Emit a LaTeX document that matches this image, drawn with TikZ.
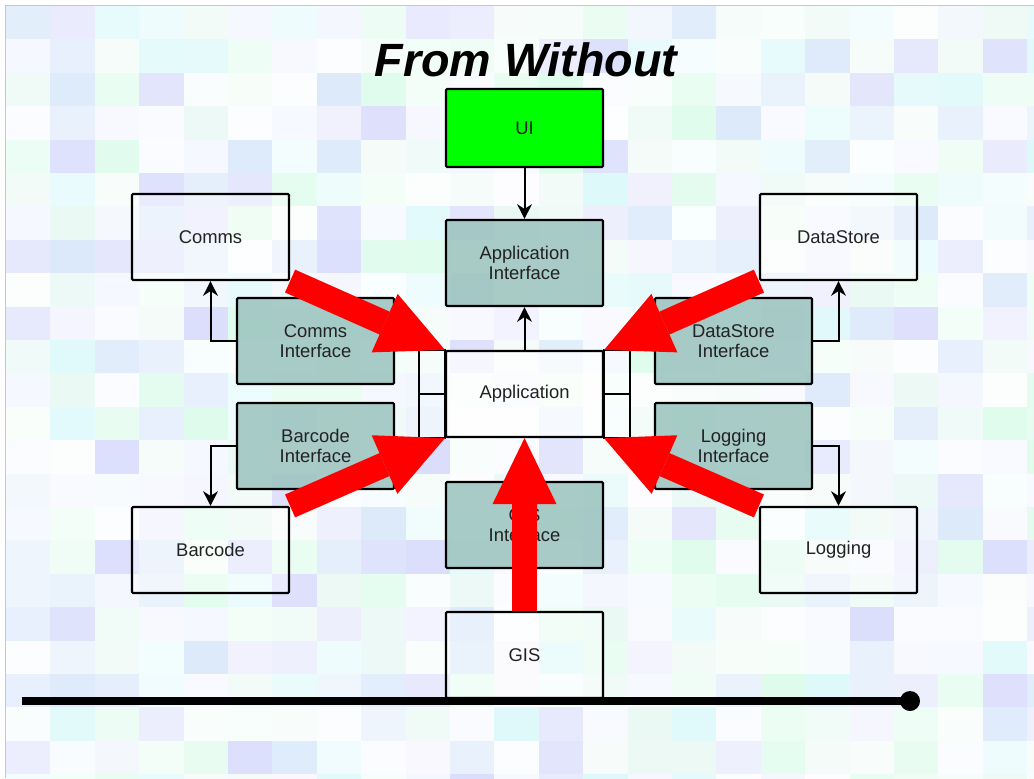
\documentclass[tikz,border=0pt]{standalone}
\usepackage{fontspec}
\setmainfont{Liberation Sans}
\usetikzlibrary{arrows.meta,calc}

% pastel tones for the mosaic backdrop
\definecolor{bgc1}{RGB}{208,250,228}
\definecolor{bgc2}{RGB}{204,208,250}
\definecolor{bgc3}{RGB}{206,246,248}
\definecolor{bgc4}{RGB}{204,224,248}
\definecolor{bgc5}{RGB}{240,244,255}
\definecolor{bgc6}{RGB}{226,246,240}
\definecolor{ifacefill}{RGB}{155,195,190}
\definecolor{uigreen}{RGB}{0,255,0}
\definecolor{labelgray}{RGB}{34,34,34}
\definecolor{edgegray}{RGB}{200,200,200}

\tikzset{
  box/.style={draw=black, line width=1.6pt, rounded corners=0.8pt,
    minimum width=117.75pt, minimum height=64.5pt, align=center,
    text=labelgray, text opacity=1,
    font=\fontsize{13.8}{15.4}\selectfont},
  plainbox/.style={box, fill=white, fill opacity=0.35},
  ifacebox/.style={box, fill=ifacefill, fill opacity=0.85},
  corebox/.style={box, fill=white, fill opacity=0.75},
  uibox/.style={box, fill=uigreen, minimum height=58.5pt},
  conn/.style={draw=black, line width=1.5pt,
    -{Stealth[length=11pt,width=11pt,inset=3.5pt]}},
  tab/.style={draw=black, line width=1.5pt},
  bigarrow/.style={draw=red, line width=18.75pt,
    -{Triangle[length=49.5pt,width=48pt,line width=0pt]}},
  rail/.style={draw=black, line width=6pt}
}

\begin{document}
\begin{tikzpicture}[x=0.75pt,y=-0.75pt]
  \useasboundingbox (0,0) rectangle (1034,778);
  \fill[white] (0,0) rectangle (1034,778);

  % mosaic backdrop
  \begin{scope}
    \clip (6,6) rectangle (1034,778);
    \pgfmathsetseed{4711}
    \foreach \i in {0,...,23}{
      \foreach \j in {0,...,23}{
        \pgfmathrandominteger{\bgc}{1}{6}
        \pgfmathrandominteger{\bgp}{10}{70}
        \fill[bgc\bgc!\bgp!white] ({6+\i*44.4},{6+\j*33.4}) rectangle ++(45,34);
      }
    }
  \end{scope}
  \draw[edgegray, line width=0.75pt] (1034,5.5) -- (5.5,5.5) -- (5.5,778);

  % title
  \node[anchor=base, font=\fontsize{35}{40}\selectfont\bfseries\itshape]
    (title) at (526,76) {From Without};

  % boxes
  \node[uibox]    (ui)     at (524.5,128) {UI};
  \node[ifacebox] (appif)  at (524.5,263) {Application\\Interface};
  \node[corebox]  (app)    at (524.5,394) {Application};
  \node[ifacebox] (gisif)  at (524.5,525) {GIS\\Interface};
  \node[plainbox] (gis)    at (524.5,655) {GIS};

  \node[plainbox] (comms)  at (210.5,237) {Comms};
  \node[ifacebox] (commsif) at (315.5,341) {Comms\\Interface};
  \node[ifacebox] (barif)  at (315.5,446) {Barcode\\Interface};
  \node[plainbox] (bar)    at (210.5,550) {Barcode};

  \node[plainbox] (ds)     at (838.5,237) {DataStore};
  \node[ifacebox] (dsif)   at (733.5,341) {DataStore\\Interface};
  \node[ifacebox] (logif)  at (733.5,446) {Logging\\Interface};
  \node[plainbox] (log)    at (838.5,550) {Logging};

  % component tabs on the sides of Application
  \draw[tab] ($(app.north west)+(-26,0)$) rectangle (app.south west);
  \draw[tab] ($(app.west)+(-26,0)$) -- (app.west);
  \draw[tab] (app.north east) rectangle ($(app.south east)+(26,0)$);
  \draw[tab] (app.east) -- ($(app.east)+(26,0)$);

  % dependency connectors
  \draw[conn] (ui) -- (appif);
  \draw[conn] (app) -- (appif);
  \draw[conn] (commsif.west) -| (comms.south);
  \draw[conn] (barif.west) -| (bar.north);
  \draw[conn] (dsif.east) -| (ds.south);
  \draw[conn] (logif.east) -| (log.north);

  % outside systems pushing in on the application
  \draw[bigarrow] (comms.south east) -- (app.north west);
  \draw[bigarrow] (ds.south west) -- (app.north east);
  \draw[bigarrow] (bar.north east) -- (app.south west);
  \draw[bigarrow] (log.north west) -- (app.south east);
  \draw[bigarrow] (gis.north) -- (app.south);

  % base rail
  \coordinate (railL) at (22,701);
  \coordinate (railR) at (910,701);
  \draw[rail] (railL) -- (railR);
  \fill[black] (railR) circle (7.5pt);
\end{tikzpicture}
\end{document}
